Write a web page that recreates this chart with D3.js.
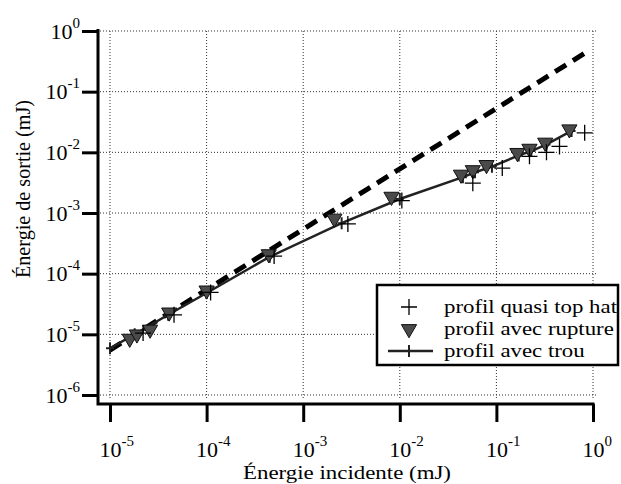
<!DOCTYPE html>
<html>
<head>
<meta charset="utf-8">
<script src="https://cdn.jsdelivr.net/npm/d3@7"></script>
<style>
  body { margin: 0; background: white; }
</style>
</head>
<body>
<script>
// decades on each axis
var xTicks = [1e-5, 1e-4, 1e-3, 1e-2, 1e-1, 1];
var yTicks = [1e-6, 1e-5, 1e-4, 1e-3, 1e-2, 1e-1, 1];

// profil quasi top hat (+)
var topHatX = [2.2e-5, 4.6e-5, 1.1e-4, 5e-4, 2.9e-3, 1.05e-2, 5.7e-2, 0.115, 0.22, 0.33, 0.45, 0.82];
var topHatY = [1.05e-5, 2.1e-5, 4.9e-5, 1.95e-4, 6.6e-4, 1.6e-3, 3.1e-3, 5.5e-3, 8.6e-3, 1.0e-2, 1.25e-2, 2.1e-2];

// profil avec rupture (triangles)
var ruptureX = [1.6e-5, 1.9e-5, 2.6e-5, 4.1e-5, 1e-4, 4.4e-4, 2.1e-3, 8.2e-3, 4.3e-2, 5.7e-2, 7.9e-2, 0.165, 0.22, 0.32, 0.57];
var ruptureY = [8.5e-6, 1.0e-5, 1.2e-5, 2.3e-5, 5.3e-5, 2.1e-4, 8.1e-4, 1.86e-3, 4.3e-3, 5.1e-3, 6.2e-3, 9.8e-3, 1.15e-2, 1.45e-2, 2.4e-2];

// profil avec trou (line)
var trouX = [1e-5, 1.8e-5, 4e-5, 1e-4, 4.5e-4, 2.5e-3, 1e-2, 4.5e-2, 6e-2, 9e-2, 0.17, 0.23, 0.33, 0.6];
var trouY = [5.9e-6, 1e-5, 2.1e-5, 4.8e-5, 1.9e-4, 6.8e-4, 1.7e-3, 3.9e-3, 4.7e-3, 5.8e-3, 8.9e-3, 1.05e-2, 1.35e-2, 2.25e-2];

// dashed reference line
var dashX = [1e-5, 0.82];
var dashY = [5.5e-6, 0.43];

var legendLabels = ["profil quasi top hat", "profil avec rupture", "profil avec trou"];

function zip(xs, ys) { return xs.map(function (v, i) { return [v, ys[i]]; }); }

var W = 621, H = 484;
var axisX = 98, axisY = 404;
var serif = "'Liberation Serif', 'Times New Roman', Times, 'DejaVu Serif', serif";

var svg = d3.select("body").append("svg")
  .attr("width", W)
  .attr("height", H)
  .attr("font-family", serif);

var x = d3.scaleLog().domain([1e-5, 1]).range([110, 593]);
var y = d3.scaleLog().domain([1e-6, 1]).range([395, 31]);

// dotted grid
var grid = svg.append("g")
  .attr("stroke", "#333")
  .attr("stroke-width", 1)
  .attr("stroke-dasharray", "1,2");
grid.selectAll("line.v").data(xTicks).enter().append("line")
  .attr("x1", function (d) { return x(d); })
  .attr("x2", function (d) { return x(d); })
  .attr("y1", y(1))
  .attr("y2", 400);
grid.selectAll("line.h").data(yTicks).enter().append("line")
  .attr("x1", axisX + 2)
  .attr("x2", x(1) + 3)
  .attr("y1", function (d) { return y(d); })
  .attr("y2", function (d) { return y(d); });

// axes
var yAxis = svg.append("g")
  .attr("transform", "translate(" + axisX + ",0)")
  .call(d3.axisLeft(y).tickValues(yTicks).tickSize(16).tickSizeOuter(0).tickFormat(""));
var xAxis = svg.append("g")
  .attr("transform", "translate(0," + axisY + ")")
  .call(d3.axisBottom(x).tickValues(xTicks).tickSize(18).tickSizeOuter(0).tickFormat(""));

yAxis.select(".domain").remove();
xAxis.select(".domain").remove();
svg.selectAll(".tick line").attr("stroke", "black").attr("stroke-width", 3);
svg.selectAll(".tick text").remove();

svg.append("path")
  .attr("d", "M" + axisX + "," + (y(1) - 2) + "V" + axisY + "H" + (x(1) + 1.5))
  .attr("fill", "none")
  .attr("stroke", "black")
  .attr("stroke-width", 3);

// tick labels 10^n
function powLabel(sel) {
  sel.each(function (d) {
    var t = d3.select(this);
    t.append("tspan").attr("font-size", 22).text("10");
    t.append("tspan").attr("font-size", 15).attr("dy", -11).text(Math.round(Math.log10(d)));
  });
}

yAxis.selectAll(".tick").append("text")
  .attr("x", -18)
  .attr("y", 7)
  .attr("fill", "black")
  .attr("font-family", serif)
  .attr("text-anchor", "end")
  .call(powLabel);

xAxis.selectAll(".tick").append("text")
  .attr("x", -11)
  .attr("y", 53)
  .attr("fill", "black")
  .attr("font-family", serif)
  .attr("text-anchor", "start")
  .call(powLabel);

// axis titles
svg.append("text")
  .attr("x", 347)
  .attr("y", 479)
  .attr("text-anchor", "middle")
  .attr("font-size", 19)
  .attr("textLength", 208)
  .attr("lengthAdjust", "spacingAndGlyphs")
  .text("Énergie incidente (mJ)");

svg.append("text")
  .attr("transform", "translate(30,189) rotate(-90)")
  .attr("text-anchor", "middle")
  .attr("font-size", 21)
  .attr("textLength", 178)
  .attr("lengthAdjust", "spacingAndGlyphs")
  .text("Énergie de sortie (mJ)");

// dashed line
var line = d3.line()
  .x(function (d) { return x(d[0]); })
  .y(function (d) { return y(d[1]); });

svg.append("path")
  .datum(zip(dashX, dashY))
  .attr("d", line)
  .attr("fill", "none")
  .attr("stroke", "black")
  .attr("stroke-width", 5)
  .attr("stroke-dasharray", "13,8");

// markers
var bigPlus = "M-8,0H8M0,-8V8";
var smallPlus = "M-4,0H4M0,-6V6";
var tri = d3.symbol().type(d3.symbolTriangle).size(100);

svg.append("path")
  .datum(zip(trouX, trouY))
  .attr("d", line)
  .attr("fill", "none")
  .attr("stroke", "#222")
  .attr("stroke-width", 2.5);

svg.append("g").selectAll("path").data(zip(trouX, trouY)).enter().append("path")
  .attr("transform", function (d) { return "translate(" + x(d[0]) + "," + y(d[1]) + ")"; })
  .attr("d", smallPlus)
  .attr("stroke", "#222")
  .attr("stroke-width", 2);

svg.append("g").selectAll("path").data(zip(ruptureX, ruptureY)).enter().append("path")
  .attr("transform", function (d) { return "translate(" + x(d[0]) + "," + y(d[1]) + ") rotate(180)"; })
  .attr("d", tri())
  .attr("fill", "#4a4a4a")
  .attr("stroke", "#111")
  .attr("stroke-width", 1);

svg.append("g").selectAll("path").data(zip(topHatX, topHatY)).enter().append("path")
  .attr("transform", function (d) { return "translate(" + x(d[0]) + "," + y(d[1]) + ")"; })
  .attr("d", bigPlus)
  .attr("stroke", "black")
  .attr("stroke-width", 1.3);

// legend
var legend = svg.append("g");
legend.append("rect")
  .attr("x", 377).attr("y", 285)
  .attr("width", 241).attr("height", 80)
  .attr("fill", "white")
  .attr("stroke", "black")
  .attr("stroke-width", 2.5);

var rows = [307, 329, 351];
legend.append("path")
  .attr("transform", "translate(409," + rows[0] + ")")
  .attr("d", bigPlus)
  .attr("stroke", "black")
  .attr("stroke-width", 1.3);
legend.append("path")
  .attr("transform", "translate(409," + rows[1] + ") rotate(180)")
  .attr("d", tri())
  .attr("fill", "#4a4a4a")
  .attr("stroke", "#111");
legend.append("line")
  .attr("x1", 388).attr("x2", 433)
  .attr("y1", rows[2]).attr("y2", rows[2])
  .attr("stroke", "#222")
  .attr("stroke-width", 2.5);
legend.append("path")
  .attr("transform", "translate(409," + rows[2] + ")")
  .attr("d", smallPlus)
  .attr("stroke", "#222")
  .attr("stroke-width", 2);

// widen the labels the same way the reference font is wider
var labels = legend.selectAll("text.lab").data(legendLabels).enter().append("text")
  .attr("x", 444)
  .attr("y", function (d, i) { return rows[i] + 6; })
  .attr("font-size", 19)
  .text(function (d) { return d; });
var stretch = 173 / labels.node().getComputedTextLength();
labels.each(function () {
  var t = d3.select(this);
  t.attr("textLength", this.getComputedTextLength() * stretch)
    .attr("lengthAdjust", "spacingAndGlyphs");
});
</script>
</body>
</html>
